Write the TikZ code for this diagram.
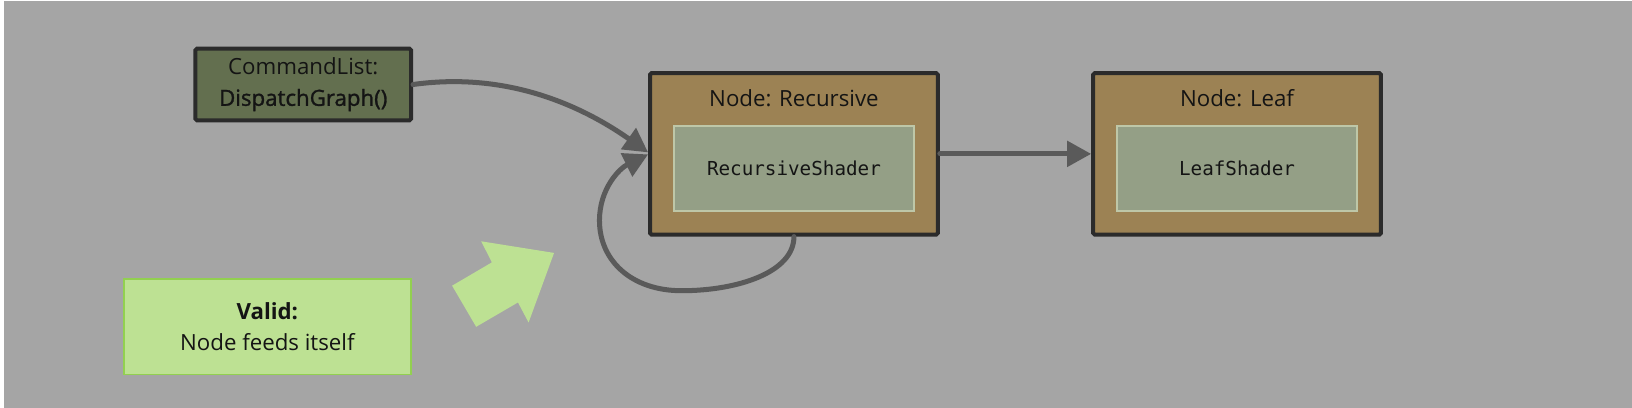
\documentclass[tikz,border=0pt]{standalone}
\usepackage{fontspec}
\setmainfont{Open Sans}
\newfontfamily\semib[FakeBold=1.3]{Open Sans}
\setmonofont{DejaVu Sans Mono}
\usetikzlibrary{arrows.meta}
\definecolor{bggray}{HTML}{A5A5A5}
\definecolor{boxline}{HTML}{2B2B2B}
\definecolor{nodefill}{HTML}{9C8254}
\definecolor{shfill}{HTML}{949F86}
\definecolor{shline}{HTML}{BEC7A8}
\definecolor{cmdfill}{HTML}{636F4F}
\definecolor{validfill}{HTML}{BDE193}
\definecolor{validline}{HTML}{92D050}
\definecolor{conn}{HTML}{5A5A5A}
\definecolor{txt}{HTML}{141414}
\tikzset{
  graphnode/.style={draw=boxline, line width=4pt, fill=nodefill, rounded corners=1.5pt,
    minimum width=287pt, minimum height=161pt, inner sep=0pt},
  shaderbox/.style={draw=shline, line width=1.5pt, fill=shfill,
    minimum width=239pt, minimum height=85pt, inner sep=0pt,
    font=\ttfamily\fontsize{19.2}{23}\selectfont, text=txt},
  titletext/.style={font=\fontsize{22.2}{26}\selectfont, text=txt, inner sep=0pt},
  cmdbox/.style={draw=boxline, line width=4pt, fill=cmdfill, rounded corners=1.5pt,
    minimum width=215pt, minimum height=71.5pt, inner sep=0pt, align=center,
    font=\fontsize{22.2}{31}\selectfont, text=txt},
  validbox/.style={draw=validline, line width=1.8pt, fill=validfill,
    minimum width=286.5pt, minimum height=95pt, inner sep=0pt, align=center,
    font=\fontsize{22.2}{31.5}\selectfont, text=txt},
  connector/.style={draw=conn, line width=5pt, line cap=round,
    -{Triangle[length=24pt,width=25pt]}},
}
\begin{document}
\begin{tikzpicture}[x=1pt,y=-1pt]
\useasboundingbox (0,0) rectangle (1628,407);
\fill[white] (0,0) rectangle (1628,407);
\fill[bggray] (4,1) rectangle (1628,407);

% graph nodes
\node[graphnode] (rec) at (792,153.5) {};
\node[titletext] (rectitle) at (792,98) {Node: Recursive};
\node[shaderbox] (recsh) at (792,168) {RecursiveShader};

\node[graphnode] (leaf) at (1234,153.5) {};
\node[titletext] (leaftitle) at (1234,98) {Node: Leaf};
\node[shaderbox] (leafsh) at (1234,168) {LeafShader};

% command list
\node[cmdbox] (cmd) at (302.5,84.3) {CommandList:\\{\semib DispatchGraph()}};

% valid note
\node[validbox] (valid) at (266.7,326) {\textbf{Valid:}\\Node feeds itself};

% big green arrow
\fill[validfill] (451,285) -- (475,326) -- (516.7,301.7) -- (527.3,321.7)
  -- (552.7,252.3) -- (480,240.7) -- (490.7,261.7) -- cycle;

% connectors
\coordinate (recin1) at ([yshift=1.5pt]rec.west);
\coordinate (recin2) at ([yshift=-0.5pt]rec.west);
\coordinate (loopstart) at (rec.south);
\coordinate (loopbot) at (680,290);
\coordinate (loopleft) at (598,220);

\draw[connector] (cmd.east) .. controls (500,72) and (574,101) .. (recin1);
\draw[connector] (rec.east) -- (leaf.west);
\draw[connector] (loopstart) .. controls (792,272) and (735,290) .. (loopbot)
  .. controls (630,290) and (598,260) .. (loopleft)
  .. controls (598,188) and (618,168) .. (recin2);
\end{tikzpicture}
\end{document}
